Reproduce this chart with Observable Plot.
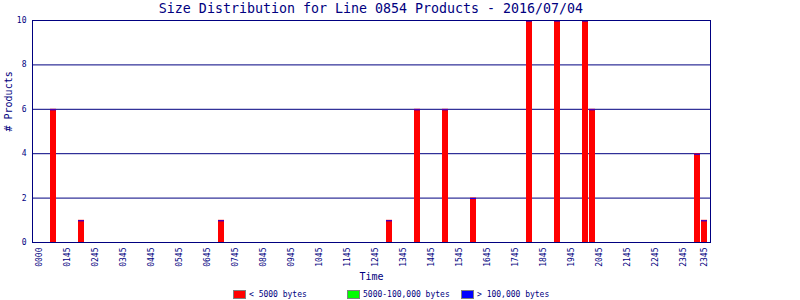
<!DOCTYPE html>
<html>
<head>
<meta charset="utf-8">
<script src="https://cdn.jsdelivr.net/npm/d3@7"></script>
<script src="https://cdn.jsdelivr.net/npm/@observablehq/plot@0.6"></script>
<style>
  html, body { margin: 0; padding: 0; background: #fff; }
  #wrap { position: relative; width: 800px; height: 300px; overflow: hidden; font-family: "DejaVu Sans Mono", monospace; color: #000080; }
  #title { position: absolute; left: 32px; top: 1px; width: 678px; height: 16px; line-height: 16px; text-align: center; font-size: 13.3px; white-space: nowrap; }
  #chart { position: absolute; left: 0; top: 16px; }
  #legend { position: absolute; left: 0; top: 288px; width: 800px; height: 12px; font-size: 8px; }
  .item { position: absolute; top: 2px; height: 9px; line-height: 9px; white-space: nowrap; }
  .sw { display: inline-block; width: 11px; height: 7px; border: 1px solid #808080; vertical-align: top; margin-right: 3px; }
</style>
</head>
<body>
<div id="wrap">
  <div id="title"></div>
  <div id="chart"></div>
  <div id="legend"></div>
</div>
<script>
// ---- data ----
const titleText = "Size Distribution for Line 0854 Products - 2016/07/04";
// all 15-minute slots of the day (categories)
const allSlots = d3.range(96).map(i => String(Math.floor(i / 4)).padStart(2, "0") + String((i % 4) * 15).padStart(2, "0"));
// slots with products
const slots  = ["0030","0130","0630","1230","1330","1430","1530","1730","1830","1930","1945","2330","2345"];
const small  = [6, 1, 1, 1, 6, 6, 2, 10, 10, 10, 6, 4, 1];   // < 5000 bytes
const medium = [0, 0, 0, 0, 0, 0, 0, 0, 0, 0, 0, 0, 0];      // 5000-100,000 bytes
const large  = [0, 0, 0, 0, 0, 0, 0, 0, 0, 0, 0, 0, 0];      // > 100,000 bytes
const seriesNames = ["< 5000 bytes", "5000-100,000 bytes", "> 100,000 bytes"];
const seriesColors = ["#ff0000", "#00ff00", "#0000ff"];
// x tick positions and their labels as printed
const tickSlots  = ["0000","0100","0200","0300","0400","0500","0600","0700","0800","0900","1000","1100","1200","1300","1400","1500","1600","1700","1800","1900","2000","2100","2200","2300","2345"];
const tickLabels = ["0000","0145","0245","0345","0445","0545","0645","0745","0845","0945","1045","1145","1245","1345","1445","1545","1645","1745","1845","1945","2045","2145","2245","2345","2345"];
const yTicks = [0, 2, 4, 6, 8, 10];

// ---- build table ----
const rows = [];
slots.forEach((s, i) => {
  rows.push({slot: s, series: seriesNames[0], value: small[i]});
  rows.push({slot: s, series: seriesNames[1], value: medium[i]});
  rows.push({slot: s, series: seriesNames[2], value: large[i]});
});
const tops = slots.map((s, i) => ({slot: s, total: small[i] + medium[i] + large[i]}));
const labelOf = new Map(tickSlots.map((s, i) => [s, tickLabels[i]]));

const navy = "#000080";
const chart = Plot.plot({
  width: 800,
  height: 272,
  marginTop: 4,
  marginBottom: 46,
  marginLeft: 32,
  marginRight: 90,
  style: {fontFamily: "DejaVu Sans Mono, monospace", fontSize: "8px", color: navy, background: "#fff"},
  x: {type: "band", domain: allSlots, range: [35, 708], padding: 1 / 7},
  y: {domain: [0, 10]},
  color: {domain: seriesNames, range: seriesColors},
  marks: [
    Plot.gridY([2, 4, 6, 8], {stroke: navy, strokeOpacity: 1}),
    Plot.barY(rows, Plot.stackY({x: "slot", y: "value", fill: "series", order: seriesNames})),
    Plot.tickY(tops, {x: "slot", y: "total", stroke: seriesColors[2], strokeWidth: 1, dy: 0.5}),
    Plot.frame({stroke: navy}),
    Plot.axisY({ticks: yTicks, tickSize: 0, tickPadding: 6, label: null, fill: navy}),
    Plot.axisX({ticks: tickSlots, tickFormat: d => labelOf.get(d), tickRotate: -90, tickSize: 0, tickPadding: 5, label: null, fill: navy}),
    Plot.text(["Time"], {frameAnchor: "bottom", dy: 37, fontSize: 10, fill: navy}),
    Plot.text(["# Products"], {frameAnchor: "left", dx: -24, rotate: -90, fontSize: 10, fill: navy})
  ]
});
document.getElementById("chart").appendChild(chart);
document.getElementById("title").textContent = titleText;

// legend
const legendX = [233, 347, 461];
const legend = document.getElementById("legend");
seriesNames.forEach((name, i) => {
  const it = document.createElement("div");
  it.className = "item";
  it.style.left = legendX[i] + "px";
  const sw = document.createElement("span");
  sw.className = "sw";
  sw.style.background = seriesColors[i];
  it.appendChild(sw);
  it.appendChild(document.createTextNode(name));
  legend.appendChild(it);
});
</script>
</body>
</html>
